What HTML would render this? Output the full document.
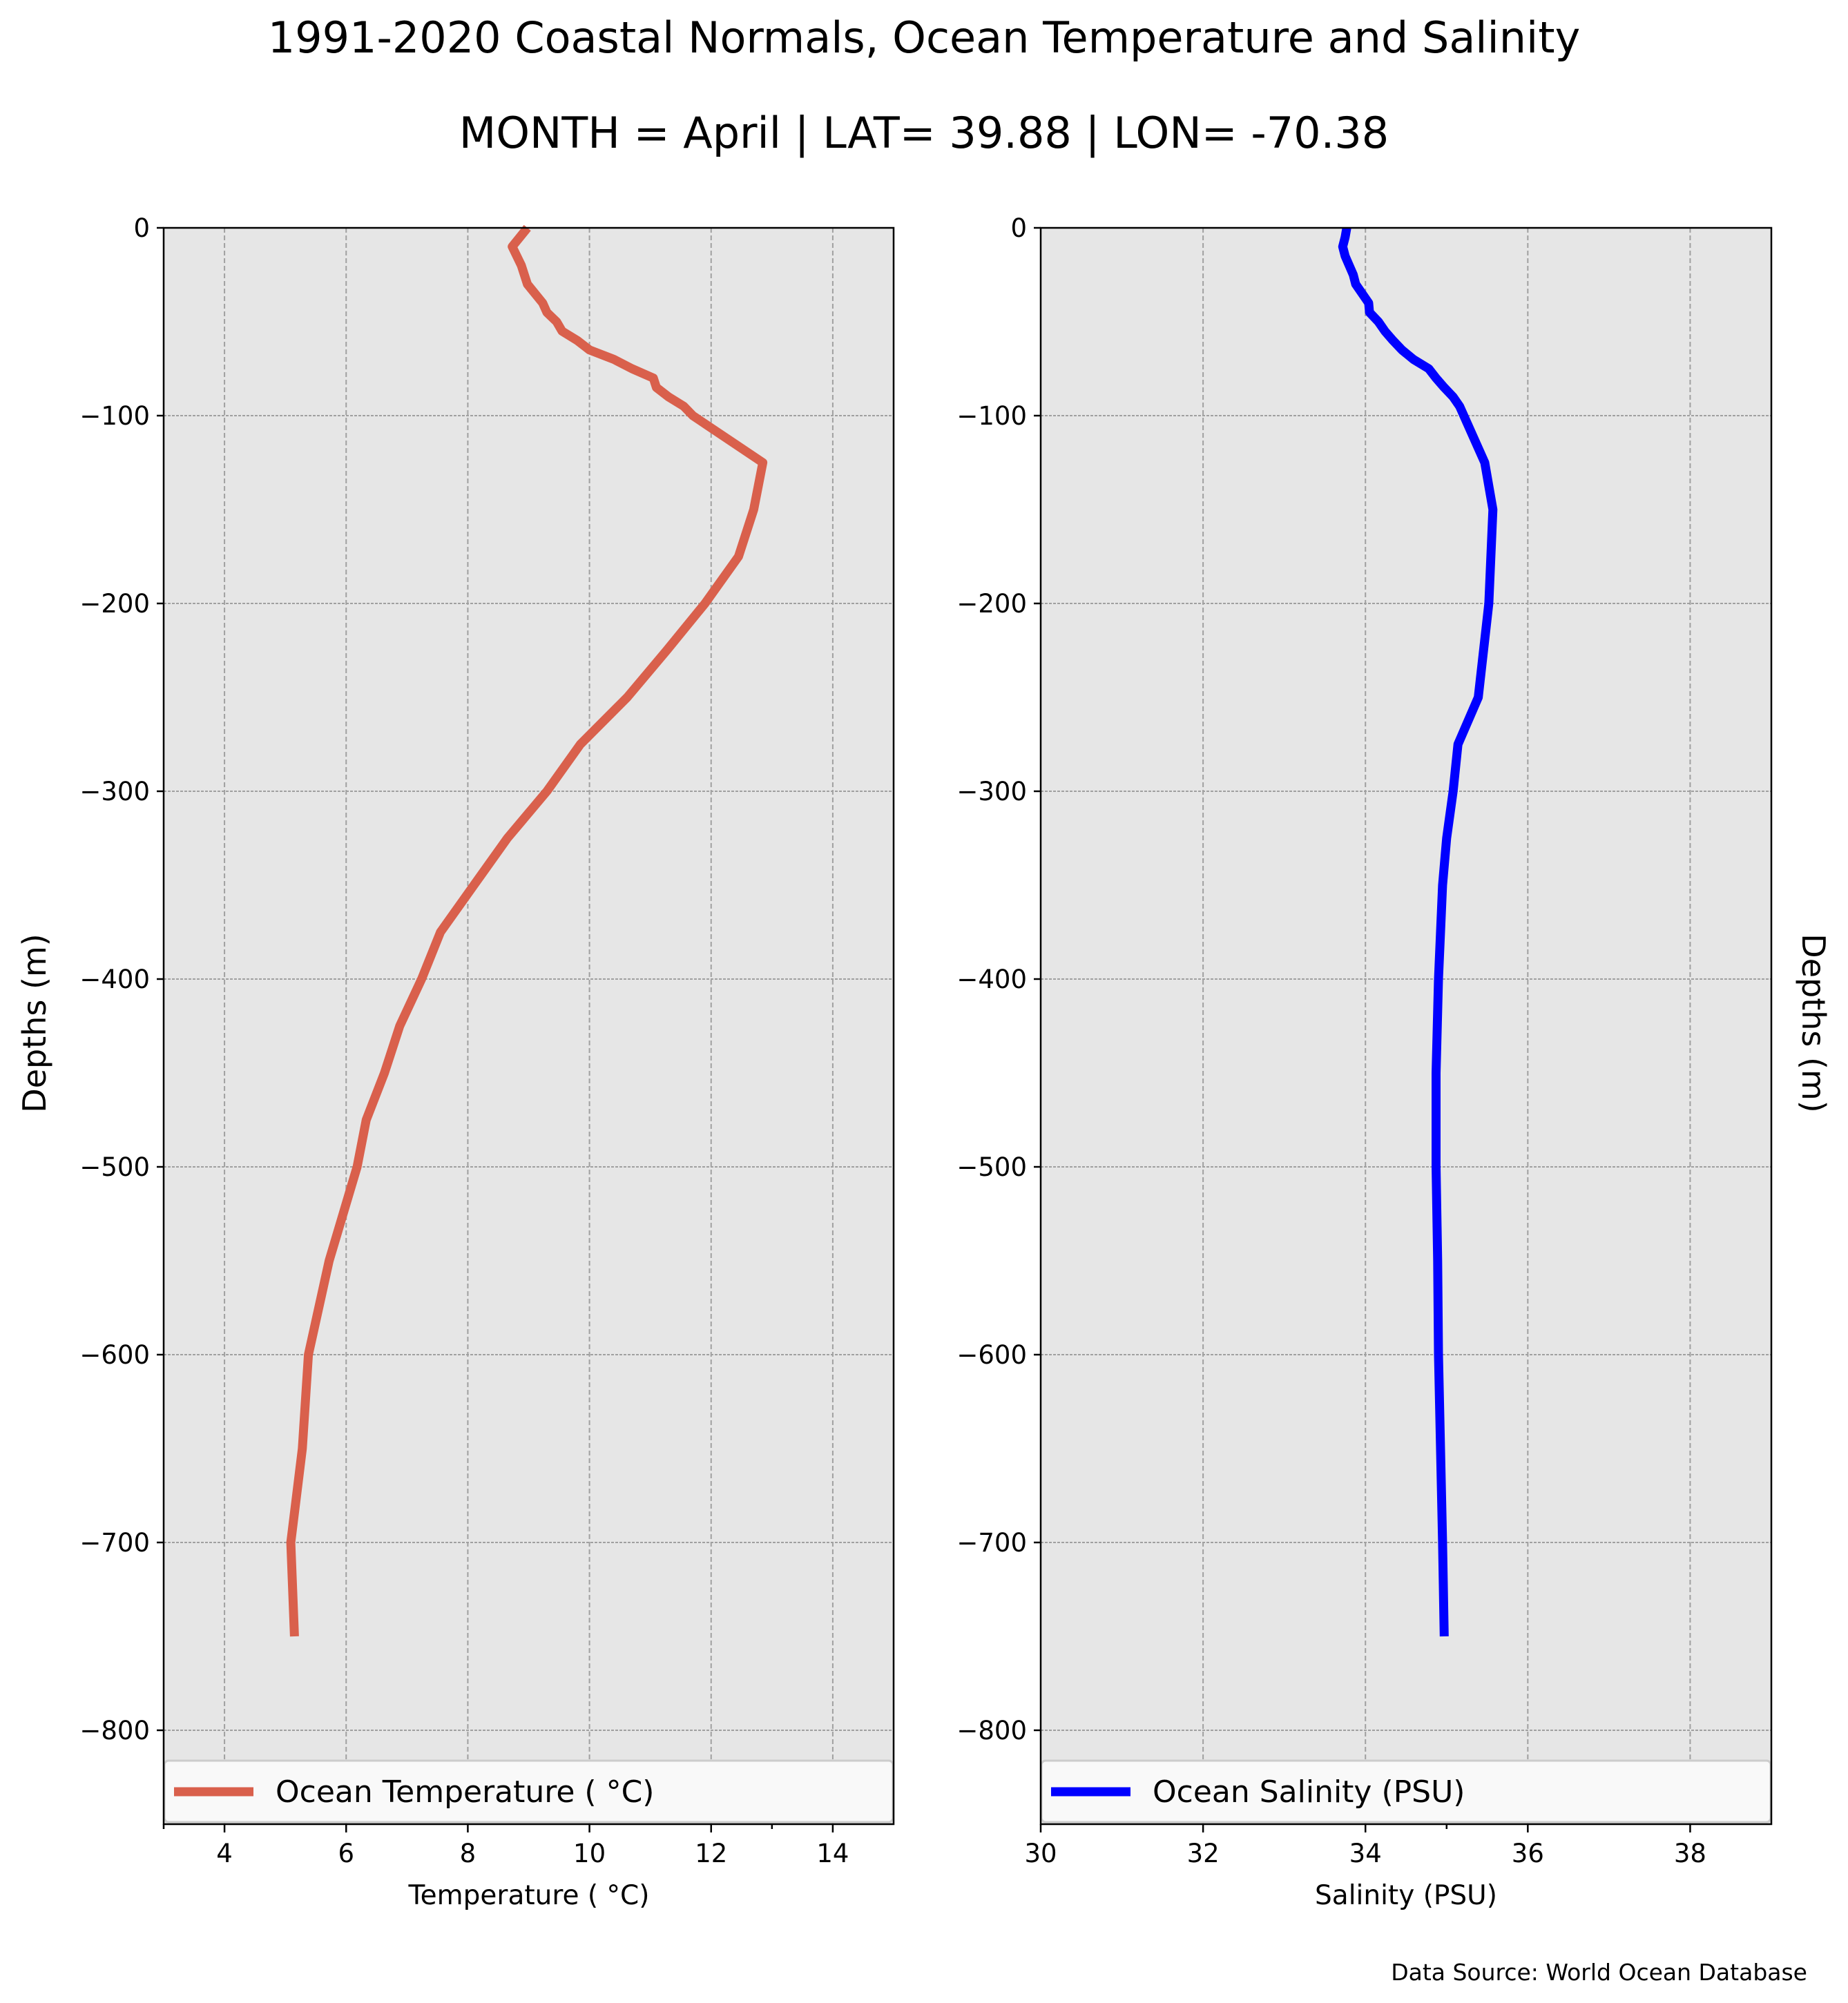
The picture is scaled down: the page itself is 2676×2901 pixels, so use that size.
<!DOCTYPE html>
<html><head><meta charset="utf-8"><style>
html,body{margin:0;padding:0;background:#fff;}
svg{display:block;font-family:"DejaVu Sans","Liberation Sans",sans-serif;}
</style></head><body>
<svg id="fig" xmlns="http://www.w3.org/2000/svg" width="2676" height="2901" viewBox="0 0 2676 2901">
<rect width="2676" height="2901" fill="#fff"/>
<text x="1338" y="76" font-size="62" text-anchor="middle">1991-2020 Coastal Normals, Ocean Temperature and Salinity</text>
<text x="1338" y="214" font-size="62" text-anchor="middle">MONTH = April | LAT= 39.88 | LON= -70.38</text>
<text transform="translate(66,1482) rotate(-90)" font-size="46" text-anchor="middle">Depths (m)</text>
<text transform="translate(2610,1482) rotate(90)" font-size="46" text-anchor="middle">Depths (m)</text>
<text x="766" y="2758" font-size="39" text-anchor="middle">Temperature ( °C)</text>
<text x="2036" y="2758" font-size="39" text-anchor="middle">Salinity (PSU)</text>
<text x="2617" y="2868" font-size="33" text-anchor="end">Data Source: World Ocean Database</text>
<g id="p1"></g><g id="p2"></g>
</svg>
<script>
const depthTicks = [0,-100,-200,-300,-400,-500,-600,-700,-800];
const tempTicks = [4,6,8,10,12,14];
const salTicks = [30,32,34,36,38];
const tempDepths = [0,-10,-20,-30,-40,-45,-50,-55,-60,-65,-70,-75,-80,-85,-90,-95,-100,-125,-150,-175,-200,-225,-250,-275,-300,-325,-350,-375,-400,-425,-450,-475,-500,-550,-600,-650,-700,-750];
const tempValues = [8.98,8.73,8.88,8.98,9.23,9.3,9.46,9.55,9.8,10.0,10.4,10.7,11.05,11.1,11.3,11.55,11.7,12.85,12.7,12.45,11.9,11.27,10.62,9.85,9.3,8.65,8.1,7.55,7.24,6.88,6.63,6.33,6.18,5.72,5.38,5.28,5.09,5.15];
const salDepths = [0,-5,-10,-15,-20,-25,-30,-40,-45,-50,-55,-60,-65,-70,-75,-80,-85,-90,-95,-125,-150,-200,-250,-275,-300,-325,-350,-400,-450,-500,-550,-600,-700,-750];
const salValues = [33.77,33.75,33.72,33.75,33.8,33.85,33.88,34.04,34.05,34.16,34.24,34.34,34.45,34.59,34.78,34.87,34.97,35.08,35.16,35.47,35.57,35.52,35.39,35.14,35.08,35.0,34.95,34.9,34.87,34.87,34.89,34.9,34.95,34.97];

const NS='http://www.w3.org/2000/svg';
function mk(tag,attrs,parent){const e=document.createElementNS(NS,tag);for(const k in attrs)e.setAttribute(k,attrs[k]);parent.appendChild(e);return e;}
const plotTop=330,plotBot=2642,yMin=-850,yMax=0;
function yS(d){return plotTop+(yMax-d)/(yMax-yMin)*(plotBot-plotTop);}
function panel(gid,x0,x1,xmin,xmax,ticks,minor,depths,vals,color,label,prefix){
  const g=document.getElementById(gid);
  const xS=v=>x0+(v-xmin)/(xmax-xmin)*(x1-x0);
  const bg=mk('rect',{x:x0,y:plotTop,width:x1-x0,height:plotBot-plotTop,fill:'#e6e6e6'},g);
  
  
  ticks.forEach(t=>{
    const l=mk('line',{x1:xS(t),x2:xS(t),y1:plotTop,y2:plotBot,stroke:'#a0a0a0','stroke-width':2,'stroke-dasharray':'7,4'},g);
    
    
  });
  depthTicks.forEach(t=>{
    const l=mk('line',{x1:x0,x2:x1,y1:yS(t),y2:yS(t),stroke:'#a0a0a0','stroke-width':2,'stroke-dasharray':'4,2'},g);
    
    
    const tk=mk('line',{x1:x0-10,x2:x0,y1:yS(t),y2:yS(t),stroke:'#000','stroke-width':2.5},g);
    
    
    const tx=mk('text',{x:x0-20,y:yS(t)+13,'font-size':37,'text-anchor':'end'},g);
    
    
    tx.textContent=t<0?'\u2212'+(-t):String(t);
  });
  const pts=depths.map((d,i)=>xS(vals[i]).toFixed(1)+','+yS(d).toFixed(1)).join(' ');
  const pl=mk('polyline',{points:pts,fill:'none',stroke:color,'stroke-width':13,'stroke-linejoin':'round'},g);
  
  
  const lg=mk('g',{},g);
  
  
  mk('rect',{x:x0+1,y:2550,width:x1-x0-2,height:89,fill:'#f9f9f9',stroke:'#cccccc','stroke-width':3,rx:6},lg);
  mk('line',{x1:x0+15,x2:x0+130,y1:2595,y2:2595,stroke:color,'stroke-width':13},lg);
  const lt=mk('text',{x:x0+162,y:2610,'font-size':44},lg);
  
  
  lt.textContent=label;
  mk('rect',{x:x0,y:plotTop,width:x1-x0,height:plotBot-plotTop,fill:'none',stroke:'#000','stroke-width':2.5},g);
  ticks.concat(minor).forEach(t=>{
    const tk=mk('line',{x1:xS(t),x2:xS(t),y1:plotBot,y2:plotBot+(minor.includes(t)?7:12),stroke:'#000','stroke-width':2.5},g);
    
    
  });
  ticks.forEach(t=>{
    const tx=mk('text',{x:xS(t),y:plotBot+55,'font-size':37,'text-anchor':'middle'},g);
    
    
    tx.textContent=String(t);
  });
}
panel('p1',237,1294,3,15,tempTicks,[3,13],tempDepths,tempValues,'#d9604c','Ocean Temperature ( °C)','temperature');
panel('p2',1507,2565,30,39,salTicks,[35],salDepths,salValues,'#0000ff','Ocean Salinity (PSU)','salinity');
</script>
</body></html>
